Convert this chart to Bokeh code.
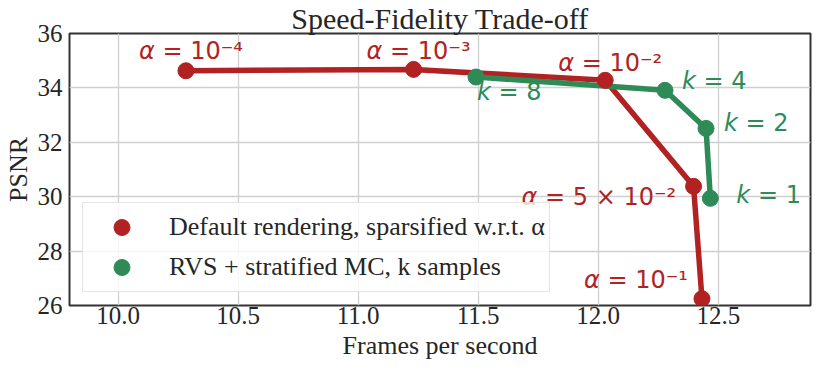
from bokeh.plotting import figure
from bokeh.models import (ColumnDataSource, FixedTicker, PrintfTickFormatter, Legend,
                          LegendItem, Range1d)
from bokeh.core.properties import value
from bokeh.embed import file_html
from bokeh.resources import INLINE

# ---- data ----
alpha_fps = [10.283, 11.231, 12.029, 12.397, 12.432]
alpha_psnr = [34.63, 34.68, 34.28, 30.38, 26.25]
alpha_text = ["10\u207b\u2074", "10\u207b\u00b3", "10\u207b\u00b2", "5 \u00d7 10\u207b\u00b2", "10\u207b\u00b9"]

k_fps = [11.491, 12.278, 12.449, 12.467]
k_psnr = [34.40, 33.91, 32.51, 29.94]
k_text = ["8", "4", "2", "1"]

x_ticks = [10.0, 10.5, 11.0, 11.5, 12.0, 12.5]
y_ticks = [26, 28, 30, 32, 34, 36]

title_text = "Speed-Fidelity Trade-off"
x_label = "Frames per second"
y_label = "PSNR"
legend_labels = ["Default rendering, sparsified w.r.t. \u03b1", "RVS + stratified MC, k samples"]

RED = "#b22222"
GREEN = "#2e8b57"
DARK = "#262626"
SERIF = "Liberation Serif"

# label placement (screen px offsets from each point: left edge, baseline)
alpha_dx = [-47, -47, -47, -172, -118]
alpha_dy = [-20, -18, -17, 11, -19]
k_dx = [1, 17, 18, 26]
k_dy = [15, -9, -5, -3]
FS = 24
W_ALPHA = 0.659 * FS + 0.318 * FS
W_K = 0.579 * FS + 0.318 * FS

p = figure(width=815, height=368, output_backend="svg", toolbar_location=None,
           x_range=Range1d(9.798, 12.884), y_range=Range1d(26, 36),
           min_border_left=68, min_border_right=5, min_border_top=28, min_border_bottom=63)

p.background_fill_color = "white"
p.border_fill_color = "white"
p.outline_line_color = "#333333"
p.outline_line_width = 2

p.title.text = title_text
p.title.align = "center"
p.title.text_font = SERIF
p.title.text_font_size = "30px"
p.title.text_font_style = "normal"
p.title.text_color = DARK
p.title.standoff = -2

for ax in (p.xaxis, p.yaxis):
    ax.axis_line_color = None
    ax.major_tick_line_color = None
    ax.minor_tick_line_color = None
    ax.major_tick_out = 0
    ax.major_tick_in = 0
    ax.minor_tick_out = 0
    ax.minor_tick_in = 0
    ax.major_label_text_font = SERIF
    ax.major_label_text_font_size = "25px"
    ax.major_label_text_color = DARK
    ax.axis_label_text_font = SERIF
    ax.axis_label_text_font_size = "26px"
    ax.axis_label_text_font_style = "normal"
    ax.axis_label_text_color = DARK

p.xaxis.ticker = FixedTicker(ticks=x_ticks)
p.xaxis.formatter = PrintfTickFormatter(format="%.1f")
p.yaxis.ticker = FixedTicker(ticks=y_ticks)
p.yaxis.formatter = PrintfTickFormatter(format="%d")
p.xaxis.axis_label = x_label
p.yaxis.axis_label = y_label
p.xaxis.major_label_standoff = 1
p.xaxis.axis_label_standoff = 4
p.yaxis.major_label_standoff = 7
p.yaxis.axis_label_standoff = 2

p.grid.grid_line_color = "#d0d0d0"
p.grid.grid_line_width = 1.3

red_src = ColumnDataSource(dict(x=alpha_fps, y=alpha_psnr))
green_src = ColumnDataSource(dict(x=k_fps, y=k_psnr))

p.line("x", "y", source=red_src, line_color=RED, line_width=5.5)
p.line("x", "y", source=green_src, line_color=GREEN, line_width=5.5)
r_red = p.scatter("x", "y", source=red_src, size=16, fill_color=RED, line_color=RED)
r_green = p.scatter("x", "y", source=green_src, size=16, fill_color=GREEN, line_color=GREEN)

# annotations: italic symbol + upright remainder
def add_labels(xs, ys, sym, rest, dxs, dys, w, color):
    pre = ColumnDataSource(dict(x=xs, y=ys, t=[sym] * len(xs), dx=dxs, dy=dys))
    post = ColumnDataSource(dict(x=xs, y=ys, t=["= " + s for s in rest],
                                 dx=[d + w for d in dxs], dy=dys))
    p.text("x", "y", text="t", x_offset="dx", y_offset="dy", source=pre,
           text_font=value("DejaVu Sans"), text_font_size=f"{FS}px", text_font_style="italic",
           text_color=color, text_align="left", text_baseline="alphabetic")
    p.text("x", "y", text="t", x_offset="dx", y_offset="dy", source=post,
           text_font=value("DejaVu Sans"), text_font_size=f"{FS}px",
           text_color=color, text_align="left", text_baseline="alphabetic")

add_labels(alpha_fps, alpha_psnr, "\u03b1", alpha_text, alpha_dx, alpha_dy, W_ALPHA, RED)
add_labels(k_fps, k_psnr, "k", k_text, k_dx, k_dy, W_K, GREEN)

legend = Legend(items=[LegendItem(label=legend_labels[0], renderers=[r_red]),
                       LegendItem(label=legend_labels[1], renderers=[r_green])],
                location=(13, 13))
legend.margin = 0
legend.padding = 4
legend.spacing = 0
legend.glyph_width = 69
legend.glyph_height = 40
legend.label_standoff = 13
legend.label_text_font = SERIF
legend.label_text_font_size = "26px"
legend.label_text_color = DARK
legend.background_fill_color = "white"
legend.background_fill_alpha = 0.8
legend.border_line_color = "#cccccc"
legend.border_line_width = 1.5
p.add_layout(legend)

open("out.html", "w").write(file_html(p, INLINE))
